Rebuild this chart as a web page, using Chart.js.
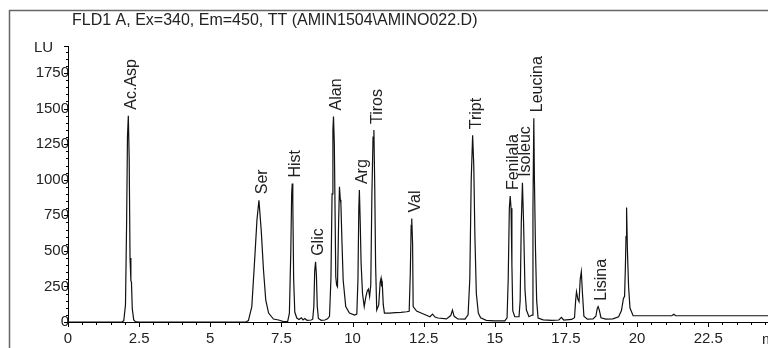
<!DOCTYPE html>
<html>
<head>
<meta charset="utf-8">
<script src="https://cdn.jsdelivr.net/npm/chart.js@4/dist/chart.umd.min.js"></script>
<style>
  html, body { margin: 0; padding: 0; background: #fff; }
</style>
</head>
<body>
<canvas id="chrom" width="768" height="348"></canvas>
<script>
/* FLD chromatogram, amino acids */
const TITLE = 'FLD1 A, Ex=340, Em=450, TT (AMIN1504\\AMINO022.D)';

// retention time (min) and signal (LU)
const rtMin = [
  0, 1.9, 1.96, 2.02, 2.06, 2.09, 2.12, 2.15, 2.18, 2.21, 2.23, 2.26, 2.31, 2.37, 2.5,
  6.25, 6.34, 6.46, 6.58, 6.64, 6.71, 6.79, 6.87, 6.95, 7.05, 7.22, 7.40, 7.57,
  7.72, 7.78, 7.83, 7.86, 7.88, 7.90, 7.93, 7.97, 8.04, 8.12, 8.2, 8.26, 8.32, 8.4, 8.55,
  8.6, 8.64, 8.67, 8.70, 8.73, 8.76, 8.80, 8.9, 9.03, 9.12,
  9.19, 9.24, 9.28, 9.31, 9.33, 9.36, 9.41, 9.44, 9.47, 9.51, 9.54, 9.57, 9.59, 9.63, 9.67, 9.76, 9.89, 10.07,
  10.15, 10.19, 10.22, 10.24, 10.27, 10.30, 10.35, 10.41, 10.47, 10.52, 10.56, 10.60,
  10.64, 10.68, 10.72, 10.75, 10.78, 10.81, 10.85, 10.92, 10.97, 11.00, 11.02, 11.04, 11.08, 11.12,
  11.3, 11.5, 11.7, 11.9,
  11.99, 12.03, 12.06, 12.08, 12.11, 12.13, 12.25, 12.45, 12.72, 12.81, 12.9, 13.0, 13.3, 13.45, 13.51, 13.57, 13.7, 13.95,
  14.06, 14.12, 14.17, 14.22, 14.26, 14.30, 14.35, 14.42, 14.5, 14.7, 15.0, 15.35,
  15.43, 15.47, 15.51, 15.54, 15.57, 15.60, 15.63, 15.7, 15.85,
  15.89, 15.93, 15.97, 16.01, 16.06, 16.11, 16.2,
  16.31, 16.34, 16.37, 16.39, 16.43, 16.47, 16.52, 16.7, 17.0, 17.25, 17.34, 17.42, 17.7,
  17.8, 17.84, 17.87, 17.92, 17.96, 18.00, 18.04, 18.08, 18.13, 18.25, 18.45,
  18.55, 18.6, 18.63, 18.67, 18.73, 18.9, 19.15, 19.35, 19.45,
  19.52, 19.56, 19.59, 19.61, 19.63, 19.66, 19.70, 19.75, 19.86, 21.22, 21.29, 21.36, 24.6
];
const signalLU = [
  0, 1, 8, 120, 700, 1300, 1450, 1150, 450, 290, 280, 90, 15, 3, 0,
  0, 10, 108, 505, 716, 856, 646, 365, 154, 63, 21, 14, 3,
  4, 60, 500, 900, 973, 850, 300, 70, 28, 18, 30, 15, 24, 12, 14,
  20, 110, 360, 423, 330, 110, 25, 12, 14, 22,
  40, 300, 900, 1350, 1445, 1250, 318, 260, 248, 700, 950, 860, 835, 550, 295, 108, 63, 49,
  55, 300, 800, 927, 700, 414, 200, 108, 180, 220, 232, 180,
  260, 900, 1300, 1350, 950, 400, 84, 120, 280, 307, 250, 290, 120, 63,
  63, 66, 68, 72,
  75, 350, 680, 728, 550, 108, 77, 60, 37, 56, 35, 28, 22, 45, 84, 40, 21, 20,
  50, 300, 1000, 1313, 1100, 600, 200, 63, 30, 12, 8, 8,
  30, 300, 800, 885, 800, 400, 80, 37, 37,
  150, 700, 978, 700, 225, 84, 37,
  49, 800, 1432, 1022, 500, 150, 28, 15, 12, 14, 33, 14, 18,
  30, 150, 213, 160, 143, 300, 353, 200, 40, 20, 22,
  40, 95, 108, 85, 30, 20, 22, 37, 80,
  166, 180, 400, 600, 805, 500, 250, 98, 44, 44, 55, 44, 44
];

// peak annotations
const peakNames = ['Ac.Asp', 'Ser', 'Hist', 'Glic', 'Alan', 'Arg', 'Tiros', 'Val',
                   'Tript', 'Fenilala', 'Isoleuc', 'Leucina', 'Lisina'];
const peakRT = [2.12, 6.71, 7.88, 8.70, 9.33, 10.24, 10.75, 12.08, 14.22, 15.54, 15.97, 16.37, 18.63];
const peakLU = [1450, 856, 973, 423, 1445, 927, 1350, 728, 1313, 885, 978, 1432, 108];

// axis ticks
const xTickLabels = [0, 2.5, 5, 7.5, 10, 12.5, 15, 17.5, 20, 22.5];
const yTickLabels = [0, 250, 500, 750, 1000, 1250, 1500, 1750];
const xMinorEvery = 0.5;
const yMinorEvery = 50;

const FONT = 'Liberation Sans, Arial, sans-serif';
const INK = '#222';

const decor = {
  id: 'decor',
  afterDraw(chart) {
    const { ctx, scales: { x, y } } = chart;
    ctx.save();

    // outer frame (left + top)
    ctx.strokeStyle = '#666';
    ctx.lineWidth = 1.5;
    ctx.beginPath();
    ctx.moveTo(9.5, 348); ctx.lineTo(9.5, 10.5); ctx.lineTo(768, 10.5);
    ctx.stroke();

    // tick marks
    ctx.strokeStyle = '#000';
    ctx.lineWidth = 1;
    ctx.beginPath();
    for (let v = 0; v <= y.max; v += yMinorEvery) {
      const py = Math.round(y.getPixelForValue(v)) + 0.5;
      const len = yTickLabels.includes(v) ? 4 : 2;
      ctx.moveTo(y.right - len, py); ctx.lineTo(y.right, py);
    }
    const topY = Math.round(y.top) + 0.5;
    ctx.moveTo(y.right - 4, topY); ctx.lineTo(y.right, topY);
    for (let v = 0; v <= x.max; v = +(v + xMinorEvery).toFixed(2)) {
      const px = Math.round(x.getPixelForValue(v)) + 0.5;
      const len = xTickLabels.includes(v) ? 5 : 3;
      ctx.moveTo(px, x.top); ctx.lineTo(px, x.top + len);
    }
    ctx.stroke();

    // texts
    ctx.fillStyle = INK;
    ctx.textBaseline = 'middle';
    ctx.textAlign = 'left';
    ctx.font = '16px ' + FONT;
    ctx.fillText(TITLE, 72, 21);
    ctx.font = '15px ' + FONT;
    ctx.fillText('LU', 34, 48);
    ctx.fillText('min', 762, 340);

    // peak names, vertical, just above each apex
    ctx.font = '16px ' + FONT;
    peakNames.forEach((name, i) => {
      const px = x.getPixelForValue(peakRT[i]) + 3.5;
      const py = y.getPixelForValue(peakLU[i]) - 6;
      ctx.save();
      ctx.translate(px, py);
      ctx.rotate(-Math.PI / 2);
      ctx.fillText(name, 0, 0);
      ctx.restore();
    });
    ctx.restore();
  }
};

new Chart(document.getElementById('chrom'), {
  type: 'line',
  data: {
    datasets: [{
      data: rtMin.map((t, i) => ({ x: t, y: signalLU[i] })),
      borderColor: '#111',
      borderWidth: 1.2,
      pointRadius: 0,
      tension: 0,
      fill: false
    }]
  },
  options: {
    responsive: false,
    animation: false,
    layout: { padding: { top: 46, left: 0, right: 0, bottom: 0 } },
    plugins: { legend: { display: false }, tooltip: { enabled: false }, title: { display: false } },
    scales: {
      x: {
        type: 'linear', min: 0, max: 24.6,
        afterFit: s => { s.height = 26; },
        afterBuildTicks: s => { s.ticks = xTickLabels.map(v => ({ value: v })); },
        grid: { display: false, drawTicks: false },
        border: { display: true, color: '#000', width: 1 },
        ticks: {
          autoSkip: false, maxRotation: 0,
          padding: 8, color: INK, font: { family: FONT, size: 15 },
          callback: v => String(v)
        }
      },
      y: {
        type: 'linear', min: 0, max: 1940,
        afterFit: s => { s.width = 68; },
        afterBuildTicks: s => { s.ticks = yTickLabels.map(v => ({ value: v })); },
        grid: { display: false, drawTicks: false },
        border: { display: true, color: '#000', width: 1 },
        ticks: {
          autoSkip: false,
          padding: -1, color: INK, font: { family: FONT, size: 15 },
          callback: v => String(v)
        }
      }
    }
  },
  plugins: [decor]
});
</script>
</body>
</html>
